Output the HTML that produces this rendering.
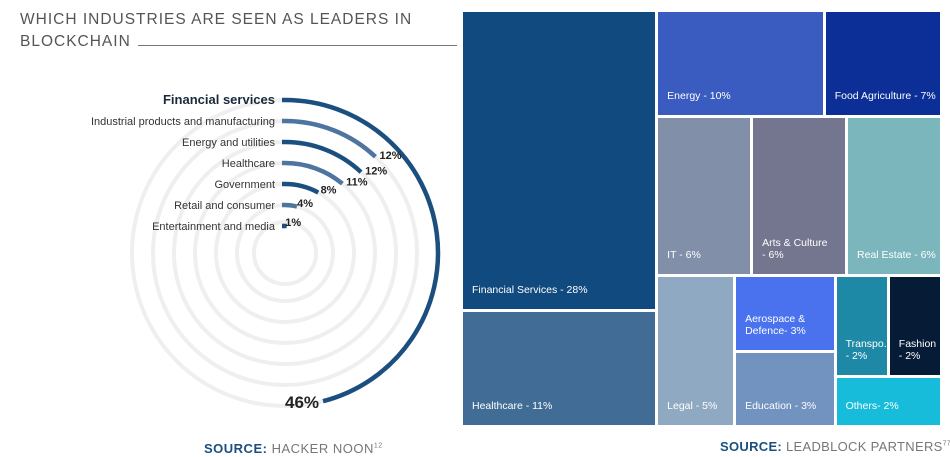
<!DOCTYPE html>
<html><head><meta charset="utf-8"><style>
body{margin:0;background:#fff;width:950px;height:457px;overflow:hidden;font-family:"Liberation Sans",sans-serif;position:relative}
.t{position:absolute;color:#555;font-size:15.5px;letter-spacing:1px}
.src{position:absolute;font-size:13px;letter-spacing:.5px;color:#777;white-space:nowrap}
.src b{color:#1b4f80}
.cell{position:absolute;color:#fff;font-size:10.5px;box-sizing:border-box;overflow:hidden}
.cell span{position:absolute;left:9px;bottom:13px;line-height:12px;white-space:nowrap}
</style></head><body>
<div class="t" style="left:20px;top:11px">WHICH INDUSTRIES ARE SEEN AS LEADERS IN</div>
<div class="t" style="left:20px;top:33px">BLOCKCHAIN</div>
<div style="position:absolute;left:138px;top:45px;width:319px;height:1px;background:#777"></div>
<svg id="radial" width="460" height="430" style="position:absolute;left:0;top:0"></svg>
<div class="src" style="left:204px;top:441px"><b>SOURCE:</b> HACKER NOON<sup style="font-size:7px">12</sup></div>
<div id="tree" style="position:absolute;left:0;top:0"></div>
<div class="src" style="left:720px;top:439px;font-size:13px;letter-spacing:.3px"><b>SOURCE:</b> LEADBLOCK PARTNERS<sup style="font-size:7px">77</sup></div>
<script>
const radCats=["Financial services","Industrial products and manufacturing","Energy and utilities","Healthcare","Government","Retail and consumer","Entertainment and media"];
const radVals=[46,12,12,11,8,4,1];
const radLabels=["46%","12%","12%","11%","8%","4%","1%"];
const svg=document.getElementById('radial');const NS='http://www.w3.org/2000/svg';
const cx=285,cy=253,r0=153,dr=21;
function mk(t,a){const e=document.createElementNS(NS,t);for(const k in a)e.setAttribute(k,a[k]);svg.appendChild(e);return e;}
function pt(r,deg){const a=(deg-90)*Math.PI/180;return[cx+r*Math.cos(a),cy+r*Math.sin(a)];}
for(let i=0;i<radCats.length;i++){
  const r=Math.max(r0-i*dr,31);
  const ring=mk('circle',{cx:cx,cy:cy,r:r,fill:'none',stroke:'#efefef','stroke-width':4});
  
}
radCats.forEach((c,i)=>{
  const r=r0-i*dr;const deg=radVals[i]/100*360;
  const col=i%2?'#4d75a0':'#1b4f80';
  const p0=pt(r,0),p1=pt(r,deg);
  const arc=mk('path',{d:`M${p0[0]-3},${p0[1]} L${p0[0]},${p0[1]} A${r},${r} 0 ${deg>180?1:0} 1 ${p1[0]},${p1[1]}`,fill:'none',stroke:col,'stroke-width':4.5});
  
  const lab=mk('text',{x:275,y:cy-r+4,'text-anchor':'end','font-size':i?11:13,'font-weight':i?'normal':'bold',fill:i?'#333':'#1a2a3a'});
  lab.textContent=c;
  let vx,vy,fs=11,anc='start';
  if(i===0){const q=pt(r,deg);vx=q[0]-4;vy=q[1]+7;fs=17;anc='end';}
  else{const q=pt(r+9,deg);vx=q[0]-2;vy=q[1]+9;}
  const v=mk('text',{x:vx,y:vy,'font-size':fs,'font-weight':'bold',fill:'#222','text-anchor':anc});
  v.textContent=radLabels[i];
});

// Treemap
const tmCats=["Financial Services","Healthcare","Energy","Food Agriculture","IT","Arts & Culture","Real Estate","Legal","Aerospace & Defence","Education","Transpo...","Fashion","Others"];
const tmVals=[28,11,10,7,6,6,6,5,3,3,2,2,2];
const tmLabels=["Financial Services - 28%","Healthcare - 11%","Energy - 10%","Food Agriculture - 7%","IT - 6%","Arts &amp; Culture<br>- 6%","Real Estate - 6%","Legal - 5%","Aerospace &amp;<br>Defence- 3%","Education - 3%","Transpo...<br>- 2%","Fashion<br>- 2%","Others- 2%"];
const tmColors=["#114a7e","#416c95","#3a5bbf","#0b2f96","#8190a8","#74758e","#7bb6bd","#90a9c2","#4a72ee","#7292c0","#1e89a6","#061c36","#18bcdb"];
const X0=463,Y0=12,X1=940,Y1=425,G=3;
const rects=[];
function split(x,y,w,h,idx,horiz){const tot=idx.reduce((s,i)=>s+tmVals[i],0);let o=0;return idx.map(i=>{const f=tmVals[i]/tot;const r=horiz?[x+o,y,w*f,h]:[x,y+o,w,h*f];o+=(horiz?w:h)*f;return r;});}
const sum=a=>a.reduce((s,i)=>s+tmVals[i],0);
const all=tmVals.map((_,i)=>i);
const colW=(X1-X0)*sum([0,1])/sum(all)*0.94;
split(X0,Y0,colW,Y1-Y0,[0,1],false).forEach((r,k)=>rects[k]=r);
const rx=X0+colW,rw=X1-rx,rh=Y1-Y0;
const rowF=[0.25,0.385,0.365];
let y=Y0;
split(rx,y,rw,rh*rowF[0],[2,3],true).forEach((r,k)=>rects[2+k]=r);y+=rh*rowF[0];
split(rx,y,rw,rh*rowF[1],[4,5,6],true).forEach((r,k)=>rects[4+k]=r);y+=rh*rowF[1];
const bh=rh*rowF[2];
const tot=sum([7,8,9,10,11,12]);
const wL=rw*tmVals[7]/tot*0.93,wA=rw*sum([8,9])/tot,wT=rw-wL-wA;
rects[7]=[rx,y,wL,bh];
split(rx+wL,y,wA,bh,[8,9],false).forEach((r,k)=>rects[8+k]=r);
const hTF=bh*sum([10,11])/sum([10,11,12]);
split(rx+wL+wA,y,wT,hTF,[10,11],true).forEach((r,k)=>rects[10+k]=r);
rects[12]=[rx+wL+wA,y+hTF,wT,bh-hTF];
const tree=document.getElementById('tree');
rects.forEach((r,i)=>{
  const d=document.createElement('div');d.className='cell';
  
  
  d.style.left=(r[0]+(r[0]>X0+1?G:0))+'px';d.style.top=(r[1]+(r[1]>Y0+1?G:0))+'px';
  d.style.width=(r[2]-(r[0]>X0+1?G:0))+'px';d.style.height=(r[3]-(r[1]>Y0+1?G:0))+'px';
  d.style.background=tmColors[i];
  d.innerHTML='<span>'+tmLabels[i]+'</span>';
  tree.appendChild(d);
});
</script>
</body></html>
